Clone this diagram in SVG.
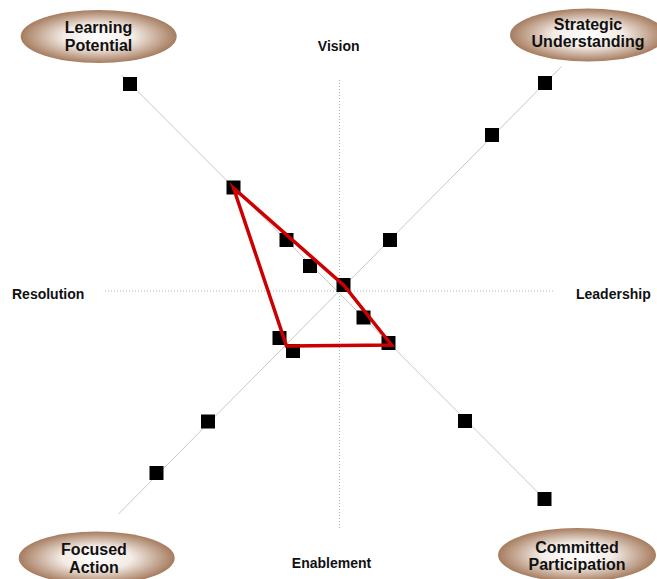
<svg xmlns="http://www.w3.org/2000/svg" width="657" height="579" viewBox="0 0 657 579">
<defs>
<radialGradient id="tan" cx="50%" cy="50%" r="50%">
<stop offset="0%" stop-color="#ffffff"/>
<stop offset="45%" stop-color="#f3ebe5"/>
<stop offset="100%" stop-color="#a67c5f"/>
</radialGradient>
<style>
.ell{fill:url(#tan);stroke:none}
.nt{font-family:"Liberation Sans",Arial,sans-serif;font-weight:bold;font-size:16px;fill:#111;text-anchor:middle}
.lbl{font-family:"Liberation Sans",Arial,sans-serif;font-weight:bold;font-size:14px;fill:#111}
.diag{stroke:#c8c8c8;stroke-width:1;fill:none}
.axis{stroke:#b4b4b4;stroke-width:1;stroke-dasharray:1 2;fill:none}
.sq{fill:#000}
.tri{fill:none;stroke:#cc0000;stroke-width:3.5;stroke-linejoin:miter}
</style>
</defs>
<rect width="657" height="579" fill="#ffffff"/>
<g id="connectors">
<line class="axis" x1="339.5" y1="80" x2="339.5" y2="530"/>
<line class="axis" x1="105" y1="291" x2="555" y2="291"/>
<line class="diag" x1="121.5" y1="75" x2="544.5" y2="499"/>
<line class="diag" x1="561.5" y1="66.5" x2="118.5" y2="514"/>
</g>
<g id="points">
<rect class="sq" x="123" y="77" width="14" height="14"/>
<rect class="sq" x="226.5" y="180.5" width="14" height="14"/>
<rect class="sq" x="279.5" y="233" width="14" height="14"/>
<rect class="sq" x="303" y="259" width="14" height="14"/>
<rect class="sq" x="336.5" y="278" width="14" height="14"/>
<rect class="sq" x="356.5" y="310.5" width="14" height="14"/>
<rect class="sq" x="381.5" y="336" width="14" height="14"/>
<rect class="sq" x="458" y="414" width="14" height="14"/>
<rect class="sq" x="537.5" y="492" width="14" height="14"/>
<rect class="sq" x="538" y="76" width="14" height="14"/>
<rect class="sq" x="485" y="128" width="14" height="14"/>
<rect class="sq" x="383" y="233" width="14" height="14"/>
<rect class="sq" x="272.5" y="331" width="14" height="14"/>
<rect class="sq" x="286" y="344" width="14" height="14"/>
<rect class="sq" x="201" y="414.5" width="14" height="14"/>
<rect class="sq" x="149.5" y="466" width="14" height="14"/>
</g>
<g id="profile">
<polygon class="tri" points="233.5,188 344,285.5 391.5,345 286.5,346"/>
</g>
<g id="learning-potential">
<ellipse class="ell" cx="98.7" cy="36.5" rx="78" ry="26.5"/>
<text class="nt" x="98.5" y="33">Learning</text>
<text class="nt" x="98.5" y="50.5">Potential</text>
</g>
<g id="strategic-understanding">
<ellipse class="ell" cx="588" cy="35" rx="78" ry="26.5"/>
<text class="nt" x="588" y="29.5">Strategic</text>
<text class="nt" x="588" y="47">Understanding</text>
</g>
<g id="focused-action">
<ellipse class="ell" cx="96.7" cy="558" rx="78" ry="26.5"/>
<text class="nt" x="94" y="555">Focused</text>
<text class="nt" x="94" y="572.5">Action</text>
</g>
<g id="committed-participation">
<ellipse class="ell" cx="577" cy="555" rx="79" ry="27"/>
<text class="nt" x="577" y="552.5">Committed</text>
<text class="nt" x="577" y="569.5">Participation</text>
</g>
<g id="axis-labels">
<text class="lbl" x="338.7" y="51" text-anchor="middle">Vision</text>
<text class="lbl" x="12" y="298.5">Resolution</text>
<text class="lbl" x="576" y="298.5">Leadership</text>
<text class="lbl" x="331.5" y="568" text-anchor="middle">Enablement</text>
</g>
</svg>
